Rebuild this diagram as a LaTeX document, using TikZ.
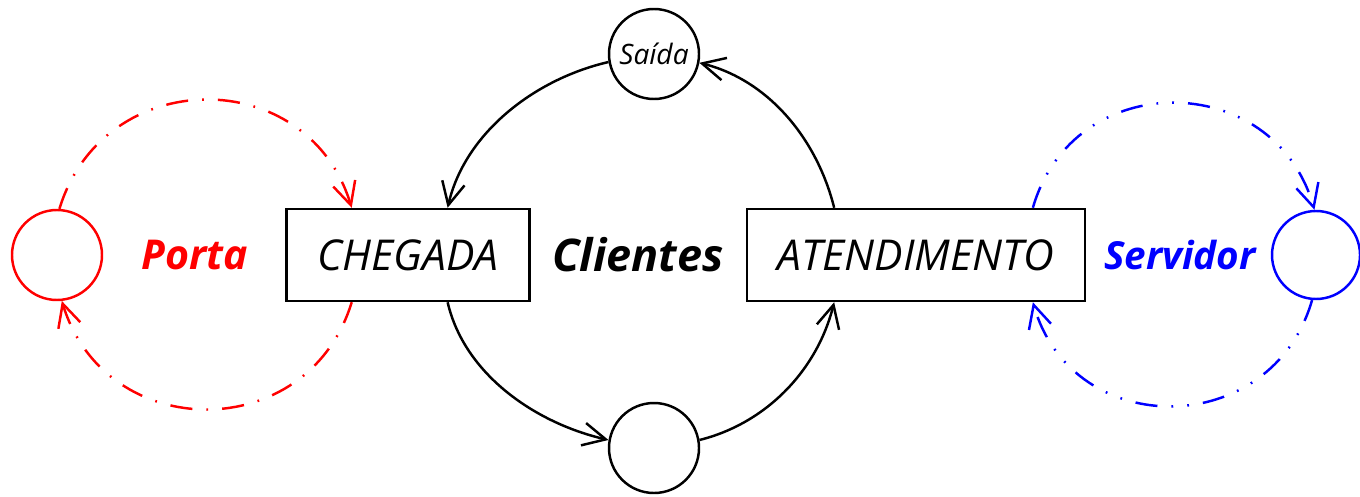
\documentclass[tikz,border=0pt]{standalone}
\usepackage{fontspec}
\setmainfont{Open Sans}
\usetikzlibrary{arrows.meta, positioning}

\begin{document}
\begin{tikzpicture}[
    proc/.style={rectangle, draw, line width=0.7pt, minimum height=0.92cm, font=\fontsize{12.1}{14}\selectfont\itshape},
    place/.style={circle, draw, line width=0.7pt, minimum size=0.9cm, inner sep=0pt},
    tag/.style={font=\fontsize{11.7}{14}\selectfont\bfseries\itshape},
    flow/.style={-{Straight Barb[length=6.5pt,width=6.5pt]}, line width=0.7pt},
    door/.style={flow, red, dash pattern=on 6.3pt off 4pt on 0.5pt off 4pt},
    serv/.style={flow, blue, dash pattern=on 6.3pt off 4pt on 0.5pt off 4pt on 0.5pt off 4pt}
]
\useasboundingbox (0,0) rectangle (13.6,4.96);

% Blocks
\node[proc, minimum width=2.43cm] (chegada) at (4.08,2.41) {CHEGADA};
\node[proc, minimum width=3.38cm, right=2.15cm of chegada] (atend) {ATENDIMENTO};
\node[tag, font=\fontsize{12.8}{15}\selectfont\bfseries\itshape] (clientes) at (6.38,2.41) {Clientes};

% Places of the cycle
\node[place, font=\fontsize{8}{9}\selectfont\itshape] (saida) at (6.54,4.42) {Saída};
\node[place] (fila) at (6.54,0.48) {};

% Door and server
\node[place, red] (porta) at (0.57,2.41) {};
\node[tag, red] (portalbl) at (1.95,2.41) {Porta};
\node[place, blue, minimum size=0.88cm] (server) at (13.16,2.41) {};
\node[tag, blue, font=\fontsize{11}{13}\selectfont\bfseries\itshape] (serverlbl) at (11.80,2.41) {Servidor};

% Cycle
\draw[flow] (saida.190) to[out=193, in=77, looseness=0.9] (chegada.50);
\draw[flow] (chegada.310) to[out=283, in=167, looseness=0.9] (fila.170);
\draw[flow] (fila.10) to[out=14, in=256, looseness=0.92] (atend.210);
\draw[flow] (atend.150) to[out=104, in=346, looseness=0.92] (saida.349);

% Door loop
\draw[door] (porta.87) to[out=73, in=107, looseness=1.32] (chegada.140);
\draw[door] (chegada.220) to[out=253, in=287, looseness=1.32] (porta.276);

% Server loop
\draw[serv] (atend.22) to[out=74, in=106, looseness=1.33] (server.92);
\draw[serv] (server.265) to[out=254, in=286, looseness=1.33] (atend.338);

\end{tikzpicture}
\end{document}
